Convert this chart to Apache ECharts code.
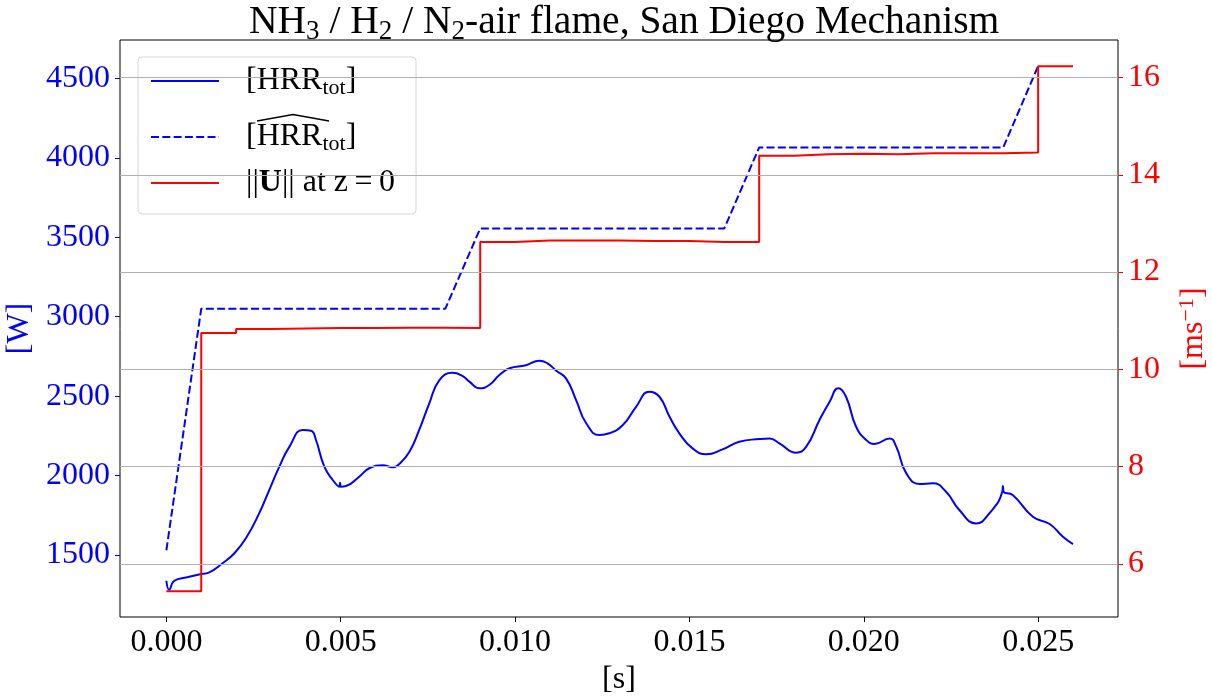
<!DOCTYPE html>
<html>
<head>
<meta charset="utf-8">
<title>NH3 / H2 / N2-air flame</title>
<script src="https://cdn.jsdelivr.net/npm/echarts@6/dist/echarts.min.js"></script>
<style>
  html, body { margin: 0; padding: 0; background: #fff; }
  #chart { width: 1212px; height: 696px; }
</style>
</head>
<body>
<div id="chart"></div>
<script>
// total heat release rate [s] / [W]
const hrrTime = [
  0.00000, 0.00008, 0.00023, 0.00060, 0.00094, 0.00123, 0.00161, 0.00195, 0.00228, 0.00266,
  0.00295, 0.00324, 0.00353, 0.00391, 0.00415, 0.00429, 0.00453, 0.00477, 0.00496, 0.00498,
  0.00500, 0.00515, 0.00553, 0.00582, 0.00620, 0.00649, 0.00668, 0.00697, 0.00725, 0.00754,
  0.00783, 0.00821, 0.00850, 0.00869, 0.00898, 0.00926, 0.00955, 0.00984, 0.01031, 0.01070,
  0.01093, 0.01118, 0.01146, 0.01175, 0.01204, 0.01242, 0.01270, 0.01309, 0.01347, 0.01385,
  0.01414, 0.01443, 0.01471, 0.01509, 0.01548, 0.01595, 0.01643, 0.01701, 0.01730, 0.01758,
  0.01806, 0.01835, 0.01873, 0.01902, 0.01927, 0.01949, 0.01978, 0.02007, 0.02031, 0.02074,
  0.02093, 0.02122, 0.02160, 0.02198, 0.02236, 0.02274, 0.02322, 0.02360, 0.02397, 0.02399,
  0.02401, 0.02427, 0.02485, 0.02533, 0.02571, 0.02600
];
const hrrTotal = [
  1338, 1282, 1338, 1360, 1378, 1391, 1448, 1511, 1605, 1762,
  1909, 2056, 2182, 2287, 2282, 2224, 2056, 1972, 1930, 1955,
  1930, 1934, 1993, 2046, 2065, 2052, 2073, 2150, 2287, 2455,
  2601, 2647, 2626, 2591, 2549, 2570, 2633, 2675, 2694, 2723,
  2706, 2660, 2612, 2475, 2329, 2255, 2266, 2318, 2433, 2528,
  2496, 2370, 2266, 2171, 2134, 2165, 2213, 2230, 2234, 2203,
  2144, 2182, 2350, 2465, 2549, 2496, 2307, 2224, 2199, 2234,
  2182, 2014, 1947, 1951, 1898, 1783, 1699, 1762, 1898, 1934,
  1898, 1878, 1741, 1695, 1615, 1569
];

// 1 ms sampling for the estimate and the inlet velocity
const stepTime = [
  0.000, 0.001, 0.002, 0.003, 0.004, 0.005, 0.006, 0.007, 0.008, 0.009,
  0.010, 0.011, 0.012, 0.013, 0.014, 0.015, 0.016, 0.017, 0.018, 0.019,
  0.020, 0.021, 0.022, 0.023, 0.024, 0.025, 0.026
];
const hrrHat = [
  1530, 3050, 3050, 3050, 3050, 3050, 3050, 3050, 3050, 3555,
  3555, 3555, 3555, 3555, 3555, 3555, 3555, 4065, 4065, 4065,
  4065, 4065, 4065, 4065, 4065, 4577
];
const velocity = [
  5.44, 10.75, 10.83, 10.84, 10.85, 10.85, 10.855, 10.855, 10.85, 12.62,
  12.65, 12.65, 12.65, 12.64, 12.64, 12.62, 12.62, 14.39, 14.42, 14.43,
  14.42, 14.44, 14.44, 14.44, 14.46, 16.23, 16.23
];

const xTicks = [0, 0.005, 0.010, 0.015, 0.020, 0.025];
const leftTicks = [1500, 2000, 2500, 3000, 3500, 4000, 4500];
const rightTicks = [6, 8, 10, 12, 14, 16];

const legendLabels = {
  hrr: '[HRR{sub|tot}]',
  hrrHat: '[HRR{sub|tot}]',
  u: '||{b|U}|| at z\u2009=\u20090'
};

const FONT = '"Liberation Serif", "DejaVu Serif", serif';
const BLUE = '#0000ff';
const RED = '#ff0000';

const sub = { fontFamily: FONT, fontSize: 22, lineHeight: 20, verticalAlign: 'bottom' };

const legendBase = {
  orient: 'vertical',
  left: 150,
  padding: 0,
  itemWidth: 68,
  itemHeight: 1,
  selectedMode: false,
  itemStyle: { opacity: 0 },
  formatter: name => legendLabels[name],
  textStyle: {
    fontFamily: FONT, fontSize: 32, color: '#000', lineHeight: 36,
    padding: [0, 0, 0, 22],
    rich: { sub: sub, b: { fontFamily: FONT, fontSize: 32, fontWeight: 'bold' } }
  }
};

const chart = echarts.init(document.getElementById('chart'));
chart.setOption({
  animation: false,
  backgroundColor: '#fff',
  title: {
    text: 'NH{sub|3} / H{sub|2} / N{sub|2}-air flame, San Diego Mechanism',
    left: 244,
    top: -4,
    textStyle: {
      fontFamily: FONT, fontSize: 39.5, fontWeight: 'normal', color: '#000', lineHeight: 44,
      rich: { sub: { fontFamily: FONT, fontSize: 27, lineHeight: 24, verticalAlign: 'bottom' } }
    }
  },
  grid: {
    left: 120, right: 94, top: 40, bottom: 79,
    outerBoundsMode: 'none', containLabel: false,
    show: true, borderColor: '#000', borderWidth: 1
  },
  legend: [
    Object.assign({}, legendBase, { data: ['hrr'], top: 63 }),
    Object.assign({}, legendBase, { data: ['hrrHat'], top: 119 }),
    Object.assign({}, legendBase, { data: ['u'], top: 165 })
  ],
  graphic: [
    {
      type: 'rect', z: 3,
      shape: { x: 138, y: 57, width: 278, height: 157, r: 4 },
      style: { fill: 'rgba(255,255,255,0.8)', stroke: '#d6d6d6', lineWidth: 1 }
    },
    {
      type: 'polyline', z: 6,
      shape: { points: [[257, 121], [293, 114.5], [329, 121]] },
      style: { stroke: '#000', lineWidth: 1.3, fill: 'none' }
    }
  ],
  xAxis: {
    type: 'value',
    min: -0.00133,
    max: 0.02729,
    axisLine: { show: false, onZero: false },
    axisTick: { show: true, customValues: xTicks, length: 5, lineStyle: { color: '#000' } },
    axisLabel: {
      customValues: xTicks, formatter: v => v.toFixed(3),
      fontFamily: FONT, fontSize: 32, color: '#000', margin: 10
    },
    splitLine: { show: false },
    name: '[s]',
    nameLocation: 'middle',
    nameGap: 42,
    nameTextStyle: { fontFamily: FONT, fontSize: 32, color: '#000' }
  },
  yAxis: [
    {
      type: 'value',
      position: 'left',
      min: 1110,
      max: 4741,
      axisLine: { show: false, onZero: false },
      axisTick: { show: true, customValues: leftTicks, length: 5, lineStyle: { color: BLUE } },
      axisLabel: {
        customValues: leftTicks, formatter: v => String(v),
        fontFamily: FONT, fontSize: 32, color: BLUE, margin: 10
      },
      splitLine: { show: false },
      name: '[W]',
      nameLocation: 'middle',
      nameRotate: 90,
      nameGap: 78,
      nameTextStyle: { fontFamily: FONT, fontSize: 32, color: BLUE }
    },
    {
      type: 'value',
      position: 'right',
      min: 4.91,
      max: 16.77,
      axisLine: { show: false, onZero: false },
      axisTick: { show: true, customValues: rightTicks, length: 5, lineStyle: { color: RED } },
      axisLabel: {
        customValues: rightTicks, formatter: v => String(v),
        fontFamily: FONT, fontSize: 32, color: RED, margin: 10
      },
      splitLine: { show: false },
      name: '[ms{sup|\u22121}]',
      nameLocation: 'middle',
      nameRotate: 90,
      nameGap: 58,
      nameTextStyle: {
        fontFamily: FONT, fontSize: 32, color: RED, lineHeight: 36,
        rich: { sup: { fontFamily: FONT, fontSize: 22, lineHeight: 20, verticalAlign: 'top', color: RED } }
      }
    }
  ],
  series: [
    {
      // right-axis grid lines
      name: 'grid',
      type: 'line',
      yAxisIndex: 1,
      data: [],
      z: 1,
      silent: true,
      markLine: {
        silent: true,
        symbol: 'none',
        label: { show: false },
        lineStyle: { color: '#b0b0b0', width: 1, type: 'solid' },
        data: rightTicks.map(v => ({ yAxis: v }))
      }
    },
    {
      name: 'hrr',
      type: 'line',
      yAxisIndex: 0,
      data: hrrTime.map((t, i) => [t, hrrTotal[i]]),
      symbol: 'none',
      smooth: 0.5,
      lineStyle: { color: BLUE, width: 2 },
      itemStyle: { color: BLUE },
      z: 2
    },
    {
      name: 'hrrHat',
      type: 'line',
      yAxisIndex: 0,
      data: stepTime.slice(0, hrrHat.length).map((t, i) => [t, hrrHat[i]]),
      symbol: 'none',
      lineStyle: { color: BLUE, width: 2, type: [8, 3.3] },
      itemStyle: { color: BLUE },
      z: 2
    },
    {
      name: 'u',
      type: 'line',
      yAxisIndex: 1,
      step: 'end',
      data: stepTime.map((t, i) => [t, velocity[i]]),
      symbol: 'none',
      lineStyle: { color: RED, width: 2 },
      itemStyle: { color: RED },
      z: 2
    }
  ]
});
</script>
</body>
</html>
